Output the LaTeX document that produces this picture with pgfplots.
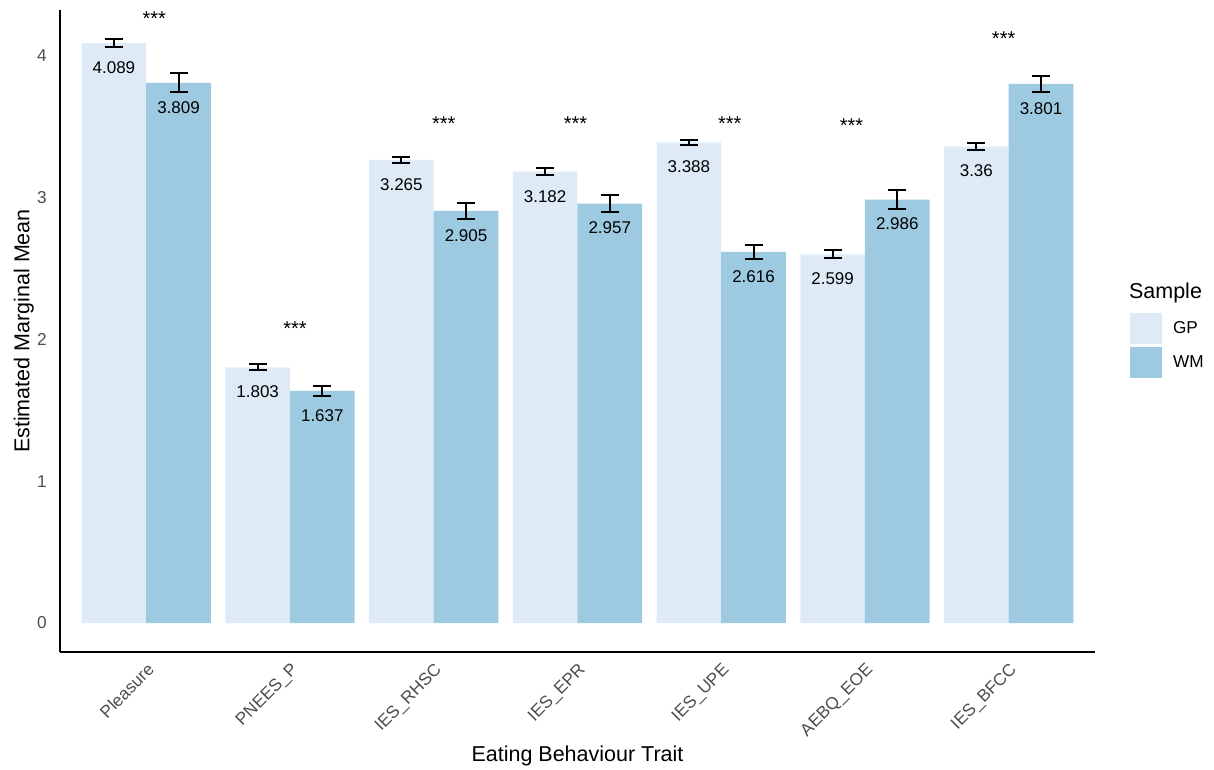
\documentclass[border=0pt]{standalone}
\usepackage{pgfplots}
\pgfplotsset{compat=1.18}
\usepackage{pgfplotstable}
\usepackage{fontspec}
\setmainfont{Liberation Sans}
\definecolor{gpc}{HTML}{DEEBF7}
\definecolor{wmc}{HTML}{9ECAE1}
\definecolor{tickgray}{HTML}{4D4D4D}

\pgfplotstableread{
pos y err lab
1 4.089 0.030 4.089
2 1.803 0.020 1.803
3 3.265 0.022 3.265
4 3.182 0.025 3.182
5 3.388 0.017 3.388
6 2.599 0.028 2.599
7 3.360 0.025 3.36
}\gpdata

\pgfplotstableread{
pos y err lab
1 3.809 0.067 3.809
2 1.637 0.035 1.637
3 2.905 0.055 2.905
4 2.957 0.060 2.957
5 2.616 0.047 2.616
6 2.986 0.070 2.986
7 3.801 0.058 3.801
}\wmdata

\pgfplotstableread{
x y
1.056 4.26
2.035 2.077
3.070 3.52
3.986 3.52
5.060 3.52
5.907 3.51
6.965 4.12
}\stars

\begin{document}
\begin{tikzpicture}
\begin{axis}[
  at={(0pt,0pt)}, anchor=south west,
  scale only axis, width=1035pt, height=642pt,
  xmin=0.4, xmax=7.6, ymin=-0.204, ymax=4.322,
  clip=false,
  axis x line*=bottom, axis y line*=left,
  axis line style={line width=2pt, -},
  major tick length=0pt,
  /pgf/number format/assume math mode=true,
  xtick={1,2,3,4,5,6,7},
  xticklabels={Pleasure, PNEES\_P, IES\_RHSC, IES\_EPR, IES\_UPE, AEBQ\_EOE, IES\_BFCC},
  ytick={0,1,2,3,4},
  tick label style={font=\fontsize{17.2}{20}\selectfont, text=tickgray},
  yticklabel style={anchor=east, inner sep=0pt, xshift=-13pt},
  xticklabel style={yshift=-10pt, rotate=45, anchor=north east, inner sep=0pt},
  xlabel={Eating Behaviour Trait},
  ylabel={Estimated Marginal Mean},
  xlabel style={at={(axis description cs:0.5,-0.162)}, anchor=center, font=\fontsize{21.5}{24}\selectfont},
  ylabel style={at={(axis description cs:-0.035,0.5)}, anchor=center, font=\fontsize{21.5}{24}\selectfont},
  legend style={at={(axis description cs:1.0338,0.528)}, anchor=north west, draw=none, fill=none,
    inner sep=0pt, row sep=3pt, column sep=11pt, font=\fontsize{17.2}{20}\selectfont,
    nodes={inner sep=0pt}},
  legend cell align=left,
]
\addplot[ybar, bar width=0.45, bar shift=0pt, fill=gpc, draw=none,
  legend image code/.code={\fill[gpc] (0pt,-15.5pt) rectangle (32pt,15.5pt);},
  nodes near coords, point meta=explicit symbolic,
  every node near coord/.append style={anchor=center, yshift=-24.5pt, font=\fontsize{17}{20}\selectfont, text=black},
  error bars/.cd, y dir=both, y explicit,
  error bar style={line width=2pt, black},
  error mark options={rotate=90, mark size=9pt, line width=2pt, black}]
  table[x expr=\thisrow{pos}-0.225, y=y, y error=err, meta=lab]{\gpdata};
\addlegendentry{GP}
\addplot[ybar, bar width=0.45, bar shift=0pt, fill=wmc, draw=none,
  legend image code/.code={\fill[wmc] (0pt,-15.5pt) rectangle (32pt,15.5pt);},
  nodes near coords, point meta=explicit symbolic,
  every node near coord/.append style={anchor=center, yshift=-24.5pt, font=\fontsize{17}{20}\selectfont, text=black},
  error bars/.cd, y dir=both, y explicit,
  error bar style={line width=2pt, black},
  error mark options={rotate=90, mark size=9pt, line width=2pt, black}]
  table[x expr=\thisrow{pos}+0.225, y=y, y error=err, meta=lab]{\wmdata};
\addlegendentry{WM}
\addplot[draw=none, mark=none, forget plot, nodes near coords={***},
  every node near coord/.append style={anchor=center, font=\fontsize{20}{22}\selectfont, text=black}]
  table[x=x, y=y]{\stars};
\node[anchor=west, inner sep=0pt, font=\fontsize{21.5}{24}\selectfont] at (axis description cs:1.0328,0.559) {Sample};
\end{axis}
\pgfresetboundingbox
\path (-60pt,-117pt) rectangle (1154pt,652pt);
\end{tikzpicture}
\end{document}
